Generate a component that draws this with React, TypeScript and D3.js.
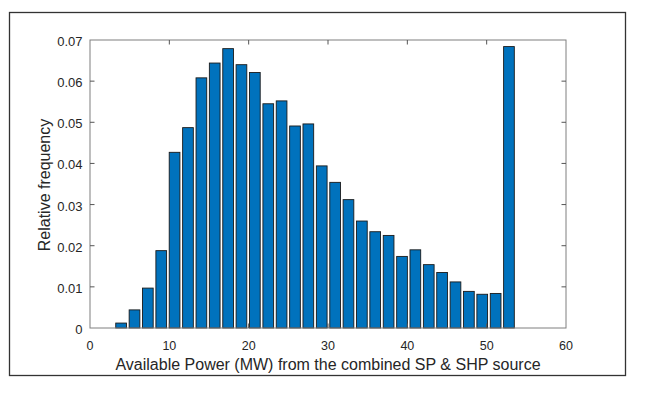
import * as React from 'react'
import * as d3 from 'd3'

// bin centres (MW)
const binCenters = [
  3.92, 5.61, 7.29, 8.98, 10.66, 12.35, 14.04, 15.72, 17.41, 19.09, 20.78, 22.47, 24.15, 25.84, 27.52,
  29.21, 30.9, 32.58, 34.27, 35.95, 37.64, 39.33, 41.01, 42.7, 44.38, 46.07, 47.76, 49.44, 51.13, 52.81,
]
const binWidth = 1.686

const relFreq = [
  0.0012, 0.0044, 0.0097, 0.0188, 0.0427, 0.0487, 0.0608, 0.0644, 0.0679, 0.064, 0.0621, 0.0545, 0.0552,
  0.0491, 0.0496, 0.0394, 0.0354, 0.0312, 0.026, 0.0234, 0.0225, 0.0174, 0.019, 0.0154, 0.0135, 0.0112,
  0.0089, 0.0082, 0.0084, 0.0684,
]

const xTicks = [0, 10, 20, 30, 40, 50, 60]
const yTicks = [0, 0.01, 0.02, 0.03, 0.04, 0.05, 0.06, 0.07]

const xLabel = 'Available Power (MW) from the combined SP & SHP source'
const yLabel = 'Relative frequency'

const W = 646
const H = 393
const plot = { left: 90, right: 566, top: 40, bottom: 328 }
const font = '"Liberation Sans", Arial, Helvetica, sans-serif'
const axisColor = '#7f7f7f'
const textColor = '#262626'

export default function App() {
  const ref = React.useRef<SVGSVGElement>(null)

  React.useEffect(() => {
    document.body.style.margin = '0'
    const svg = d3.select(ref.current)
    svg.selectAll('*').remove()

    const x = d3.scaleLinear().domain([0, 60]).range([plot.left, plot.right])
    const y = d3.scaleLinear().domain([0, 0.07]).range([plot.bottom, plot.top])

    // figure frame
    svg
      .append('rect')
      .attr('x', 9.5)
      .attr('y', 12.5)
      .attr('width', 616)
      .attr('height', 363)
      .attr('fill', '#fff')
      .attr('stroke', '#333')
      .attr('stroke-width', 1.3)

    // bars
    const barW = binWidth * 0.8
    svg
      .append('g')
      .selectAll('rect')
      .data(relFreq)
      .enter()
      .append('rect')
      .attr('x', (d, i) => x(binCenters[i] - barW / 2))
      .attr('width', x(barW) - x(0))
      .attr('y', (d) => y(d))
      .attr('height', (d) => y(0) - y(d))
      .attr('fill', '#0072bd')
      .attr('stroke', '#1a1a1a')
      .attr('stroke-width', 0.9)

    // axes box
    svg
      .append('rect')
      .attr('x', plot.left)
      .attr('y', plot.top)
      .attr('width', plot.right - plot.left)
      .attr('height', plot.bottom - plot.top)
      .attr('fill', 'none')
      .attr('stroke', axisColor)
      .attr('stroke-width', 1)

    const tickLen = 4.5
    const g = svg.append('g').attr('stroke', '#555').attr('stroke-width', 1)
    xTicks.slice(1, -1).forEach((t) => {
      g.append('line').attr('x1', x(t)).attr('x2', x(t)).attr('y1', plot.bottom).attr('y2', plot.bottom - tickLen)
      g.append('line').attr('x1', x(t)).attr('x2', x(t)).attr('y1', plot.top).attr('y2', plot.top + tickLen)
    })
    yTicks.slice(1, -1).forEach((t) => {
      g.append('line').attr('x1', plot.left).attr('x2', plot.left + tickLen).attr('y1', y(t)).attr('y2', y(t))
      g.append('line').attr('x1', plot.right).attr('x2', plot.right - tickLen).attr('y1', y(t)).attr('y2', y(t))
    })

    // tick labels
    svg
      .append('g')
      .selectAll('text')
      .data(xTicks)
      .enter()
      .append('text')
      .attr('x', (d) => x(d))
      .attr('y', plot.bottom + 22)
      .attr('text-anchor', 'middle')
      .attr('font-family', font)
      .attr('font-size', 12.5)
      .attr('fill', textColor)
      .text((d) => d)

    svg
      .append('g')
      .selectAll('text')
      .data(yTicks)
      .enter()
      .append('text')
      .attr('x', plot.left - 7.5)
      .attr('y', (d) => y(d) + 6)
      .attr('text-anchor', 'end')
      .attr('font-family', font)
      .attr('font-size', 13)
      .attr('fill', textColor)
      .text((d) => (d === 0 ? '0' : d.toFixed(2)))

    // axis labels
    svg
      .append('text')
      .attr('x', (plot.left + plot.right) / 2)
      .attr('y', 370)
      .attr('text-anchor', 'middle')
      .attr('font-family', font)
      .attr('font-size', 16)
      .attr('fill', textColor)
      .text(xLabel)

    svg
      .append('text')
      .attr('transform', `translate(50,${(plot.top + plot.bottom) / 2 + 1}) rotate(-90)`)
      .attr('text-anchor', 'middle')
      .attr('font-family', font)
      .attr('font-size', 16)
      .attr('fill', textColor)
      .text(yLabel)
  }, [])

  return <svg ref={ref} width={W} height={H} style={{ display: 'block', background: '#fff' }} />
}
